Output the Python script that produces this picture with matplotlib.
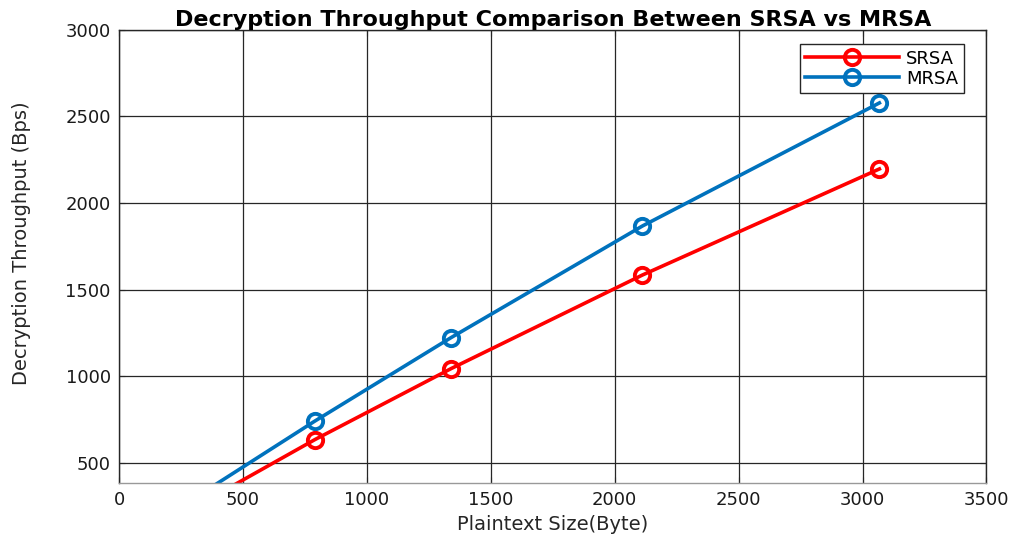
import matplotlib.pyplot as plt

# data (first point lies below the visible y range)
plaintext_size = [256, 790, 1340, 2112, 3068]
srsa = [206, 635, 1045, 1585, 2197]
mrsa = [254, 742, 1224, 1868, 2578]

plt.rcParams['font.family'] = ['DejaVu Sans']

fig = plt.figure(figsize=(10.18, 5.42), dpi=100)
ax = fig.add_axes([0.117, 0.109, 0.852, 0.836])

ax.plot(plaintext_size, srsa, color='#ff0000', lw=2.6, marker='o', ms=11,
        mfc='none', mew=2.8, label='SRSA')
ax.plot(plaintext_size, mrsa, color='#0072bd', lw=2.6, marker='o', ms=11,
        mfc='none', mew=2.8, label='MRSA')

ax.set_xlim(0, 3500)
ax.set_ylim(385, 3000)
ax.set_xticks(range(0, 3501, 500))
ax.set_yticks(range(500, 3001, 500))
ax.grid(True, color='#262626', lw=0.9)
ax.set_axisbelow(True)
ax.tick_params(direction='in', labelsize=13, length=4, top=True, right=True,
               colors='#262626', labelcolor='#1a1a1a', pad=6)
for side in ['top', 'right', 'left']:
    ax.spines[side].set_color('#262626')
ax.spines['bottom'].set_color('#999999')
for s in ax.spines.values():
    s.set_linewidth(1.0)

ax.set_title('Decryption Throughput Comparison Between SRSA vs MRSA',
             fontsize=16, fontweight='bold', pad=3)
ax.set_xlabel('Plaintext Size(Byte)', fontsize=14, labelpad=4, color='#262626')
ax.set_ylabel('Decryption Throughput (Bps)', fontsize=14, color='#262626')
ax.yaxis.set_label_coords(-0.102, 0.53)

leg = ax.legend(loc='upper right', bbox_to_anchor=(0.974, 0.968), fontsize=13,
                handlelength=5.2, fancybox=False, framealpha=1,
                edgecolor='#262626', borderpad=0.3, labelspacing=0.1,
                handletextpad=0.4, borderaxespad=0)
leg.get_frame().set_linewidth(1.0)

fig.savefig('out.png', dpi=100)
